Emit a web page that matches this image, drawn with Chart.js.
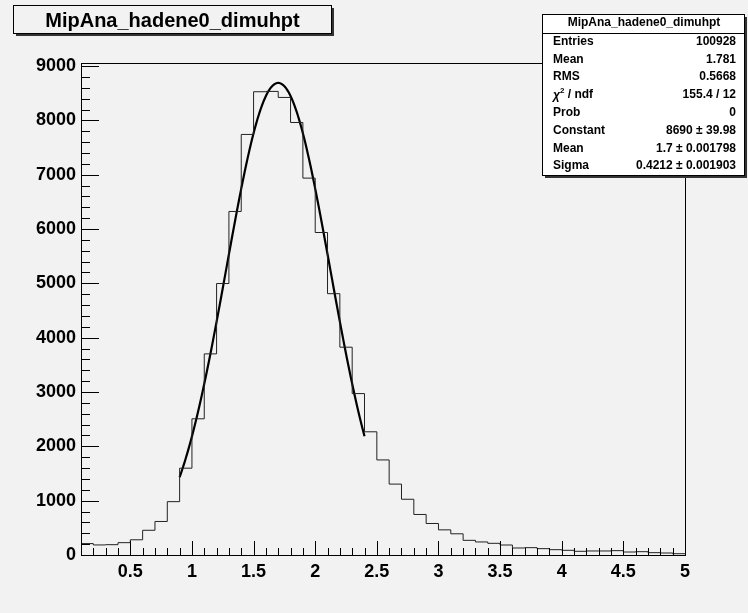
<!DOCTYPE html>
<html>
<head>
<meta charset="utf-8">
<script src="https://cdn.jsdelivr.net/npm/chart.js@4.4.0/dist/chart.umd.min.js"></script>
<style>
  body { margin: 0; background: #f2f2f2; }
  canvas { display: block; }
</style>
</head>
<body>
<canvas id="dimuhpt" width="748" height="613"></canvas>
<script>
const histTitle = 'MipAna_hadene0_dimuhpt'

// histogram bins, 0.1 wide, from 0.1 to 5
const binWidth = 0.1
const binLowEdges = [
  0.1, 0.2, 0.3, 0.4, 0.5, 0.6, 0.7, 0.8, 0.9, 1.0,
  1.1, 1.2, 1.3, 1.4, 1.5, 1.6, 1.7, 1.8, 1.9, 2.0,
  2.1, 2.2, 2.3, 2.4, 2.5, 2.6, 2.7, 2.8, 2.9, 3.0,
  3.1, 3.2, 3.3, 3.4, 3.5, 3.6, 3.7, 3.8, 3.9, 4.0,
  4.1, 4.2, 4.3, 4.4, 4.5, 4.6, 4.7, 4.8, 4.9
]
const binCounts = [
  210, 185, 190, 227, 280, 455, 617, 982, 1598, 2507,
  3702, 4997, 6323, 7741, 8527, 8533, 8422, 7961, 6937, 5936,
  4810, 3825, 2971, 2268, 1750, 1305, 1026, 746, 580, 463,
  390, 270, 240, 215, 184, 129, 135, 117, 98, 86,
  68, 74, 74, 80, 55, 61, 43, 37, 24
]

const xTickValues = [0.5, 1, 1.5, 2, 2.5, 3, 3.5, 4, 4.5, 5]
const yTickValues = [0, 1000, 2000, 3000, 4000, 5000, 6000, 7000, 8000, 9000]
const xRange = [0.1, 5]
const yRange = [0, 9056]

// gaussian fit result
const fitConstant = 8690
const fitMean = 1.7
const fitSigma = 0.4212
const fitRange = [0.9, 2.4]

const statLabels = ['Entries', 'Mean', 'RMS', 'χ2 / ndf', 'Prob', 'Constant', 'Mean', 'Sigma']
const statValues = ['100928', '1.781', '0.5668', '155.4 / 12', '0', '8690 \u00b1 39.98', '1.7 \u00b1 0.001798', '0.4212 \u00b1 0.001903']

const FONT = '"Liberation Sans", Arial, Helvetica, sans-serif'

const histPoints = binLowEdges.map((x, i) => ({ x: x, y: binCounts[i] }))
histPoints.push({ x: binLowEdges[binLowEdges.length - 1] + binWidth, y: binCounts[binCounts.length - 1] })

const fitPoints = []
const nFit = 150
for (let i = 0; i <= nFit; i++) {
  const x = fitRange[0] + (fitRange[1] - fitRange[0]) * i / nFit
  fitPoints.push({ x: x, y: fitConstant * Math.exp(-0.5 * Math.pow((x - fitMean) / fitSigma, 2)) })
}

const rootStyle = {
  id: 'rootStyle',
  beforeDraw(chart) {
    const ctx = chart.ctx
    ctx.save()
    ctx.fillStyle = '#f2f2f2'
    ctx.fillRect(0, 0, chart.width, chart.height)
    ctx.restore()
  },
  afterDatasetsDraw(chart) {
    const ctx = chart.ctx
    const a = chart.chartArea
    const xs = chart.scales.x
    const ys = chart.scales.y
    ctx.save()
    ctx.strokeStyle = '#000'
    ctx.lineWidth = 1
    ctx.strokeRect(Math.round(a.left) + 0.5, Math.round(a.top) + 0.5,
      Math.round(a.right) - Math.round(a.left), Math.round(a.bottom) - Math.round(a.top))

    // ticks sit inside the frame
    const xMajor = 14, xMinor = 7, yMajor = 18, yMinor = 9
    ctx.beginPath()
    for (let v = 0.1; v <= xRange[1] + 1e-9; v += 0.1) {
      const k = Math.round(v * 10)
      const px = Math.round(xs.getPixelForValue(k / 10)) + 0.5
      const len = k % 5 === 0 ? xMajor : xMinor
      ctx.moveTo(px, a.bottom)
      ctx.lineTo(px, a.bottom - len)
    }
    for (let v = 0; v <= 9000; v += 200) {
      const py = Math.round(ys.getPixelForValue(v)) + 0.5
      const len = v % 1000 === 0 ? yMajor : yMinor
      ctx.moveTo(a.left, py)
      ctx.lineTo(a.left + len, py)
    }
    ctx.stroke()
    ctx.restore()
  },
  afterDraw(chart) {
    const ctx = chart.ctx
    ctx.save()

    // title pave
    ctx.fillStyle = '#333'
    ctx.fillRect(16, 34, 318, 2)
    ctx.fillRect(332, 8, 2, 28)
    ctx.fillStyle = '#f2f2f2'
    ctx.fillRect(13, 5, 319, 29)
    ctx.strokeStyle = '#000'
    ctx.lineWidth = 1
    ctx.strokeRect(13.5, 5.5, 318, 28)
    ctx.fillStyle = '#000'
    ctx.font = 'bold 20px ' + FONT
    ctx.textAlign = 'center'
    ctx.textBaseline = 'middle'
    ctx.fillText(histTitle, 172.5, 21)

    // stats box
    const bx = 542, by = 14, bw = 202, bh = 161
    ctx.fillStyle = '#333'
    ctx.fillRect(bx + bw, by + 3, 3, bh)
    ctx.fillRect(bx + 3, by + bh, bw, 3)
    ctx.fillStyle = '#ffffff'
    ctx.fillRect(bx, by, bw, bh)
    ctx.strokeStyle = '#000'
    ctx.strokeRect(bx + 0.5, by + 0.5, bw, bh)
    const headBottom = 32.5
    ctx.beginPath()
    ctx.moveTo(bx, Math.round(headBottom) + 0.5)
    ctx.lineTo(bx + bw, Math.round(headBottom) + 0.5)
    ctx.stroke()

    ctx.fillStyle = '#000'
    ctx.font = 'bold 12px ' + FONT
    ctx.textAlign = 'center'
    ctx.fillText(histTitle, bx + bw / 2 + 1, 23)

    const rowH = (by + bh - headBottom) / statLabels.length
    statLabels.forEach((label, i) => {
      const y = headBottom + rowH * (i + 0.5)
      ctx.font = 'bold 12px ' + FONT
      ctx.textAlign = 'left'
      const lx = 553
      if (label.indexOf('χ2') === 0) {
        ctx.font = 'italic bold 12px ' + FONT
        ctx.fillText('χ', lx, y + 1)
        let w = ctx.measureText('χ').width
        ctx.font = 'bold 8px ' + FONT
        ctx.fillText('2', lx + w, y - 4)
        w += ctx.measureText('2').width
        ctx.font = 'bold 12px ' + FONT
        ctx.fillText(label.slice(2), lx + w, y)
      } else {
        ctx.fillText(label, lx, y)
      }
      ctx.textAlign = 'right'
      ctx.fillText(statValues[i], 736, y)
    })
    ctx.restore()
  }
}

const ctx = document.querySelector('#dimuhpt')
const chart = new Chart(ctx, {
  type: 'line',
  data: {
    datasets: [
      {
        label: histTitle,
        data: histPoints,
        stepped: true,
        borderColor: '#222',
        borderWidth: 1,
        pointRadius: 0,
        fill: false
      },
      {
        label: 'gaus',
        data: fitPoints,
        borderColor: '#000',
        borderWidth: 2.2,
        pointRadius: 0,
        tension: 0,
        fill: false
      }
    ]
  },
  options: {
    responsive: false,
    animation: false,
    layout: { padding: { top: 63, right: 63, left: 0, bottom: 0 } },
    plugins: { legend: { display: false }, tooltip: { enabled: false }, title: { display: false } },
    scales: {
      x: {
        type: 'linear',
        min: xRange[0],
        max: xRange[1],
        grid: { display: false, drawTicks: false },
        border: { display: false },
        afterBuildTicks: (scale) => { scale.ticks = xTickValues.map(v => ({ value: v })) },
        afterFit: (scale) => { scale.height = 58 },
        ticks: {
          color: '#000',
          padding: 6,
          maxRotation: 0,
          autoSkip: false,
          font: { family: FONT, weight: 'bold', size: 18 },
          callback: (v) => String(v)
        }
      },
      y: {
        type: 'linear',
        min: yRange[0],
        max: yRange[1],
        grid: { display: false, drawTicks: false },
        border: { display: false },
        afterBuildTicks: (scale) => { scale.ticks = yTickValues.map(v => ({ value: v })) },
        afterFit: (scale) => { scale.width = 81 },
        ticks: {
          color: '#000',
          padding: 5,
          autoSkip: false,
          font: { family: FONT, weight: 'bold', size: 18 },
          callback: (v) => String(v)
        }
      }
    }
  },
  plugins: [rootStyle]
})
</script>
</body>
</html>
